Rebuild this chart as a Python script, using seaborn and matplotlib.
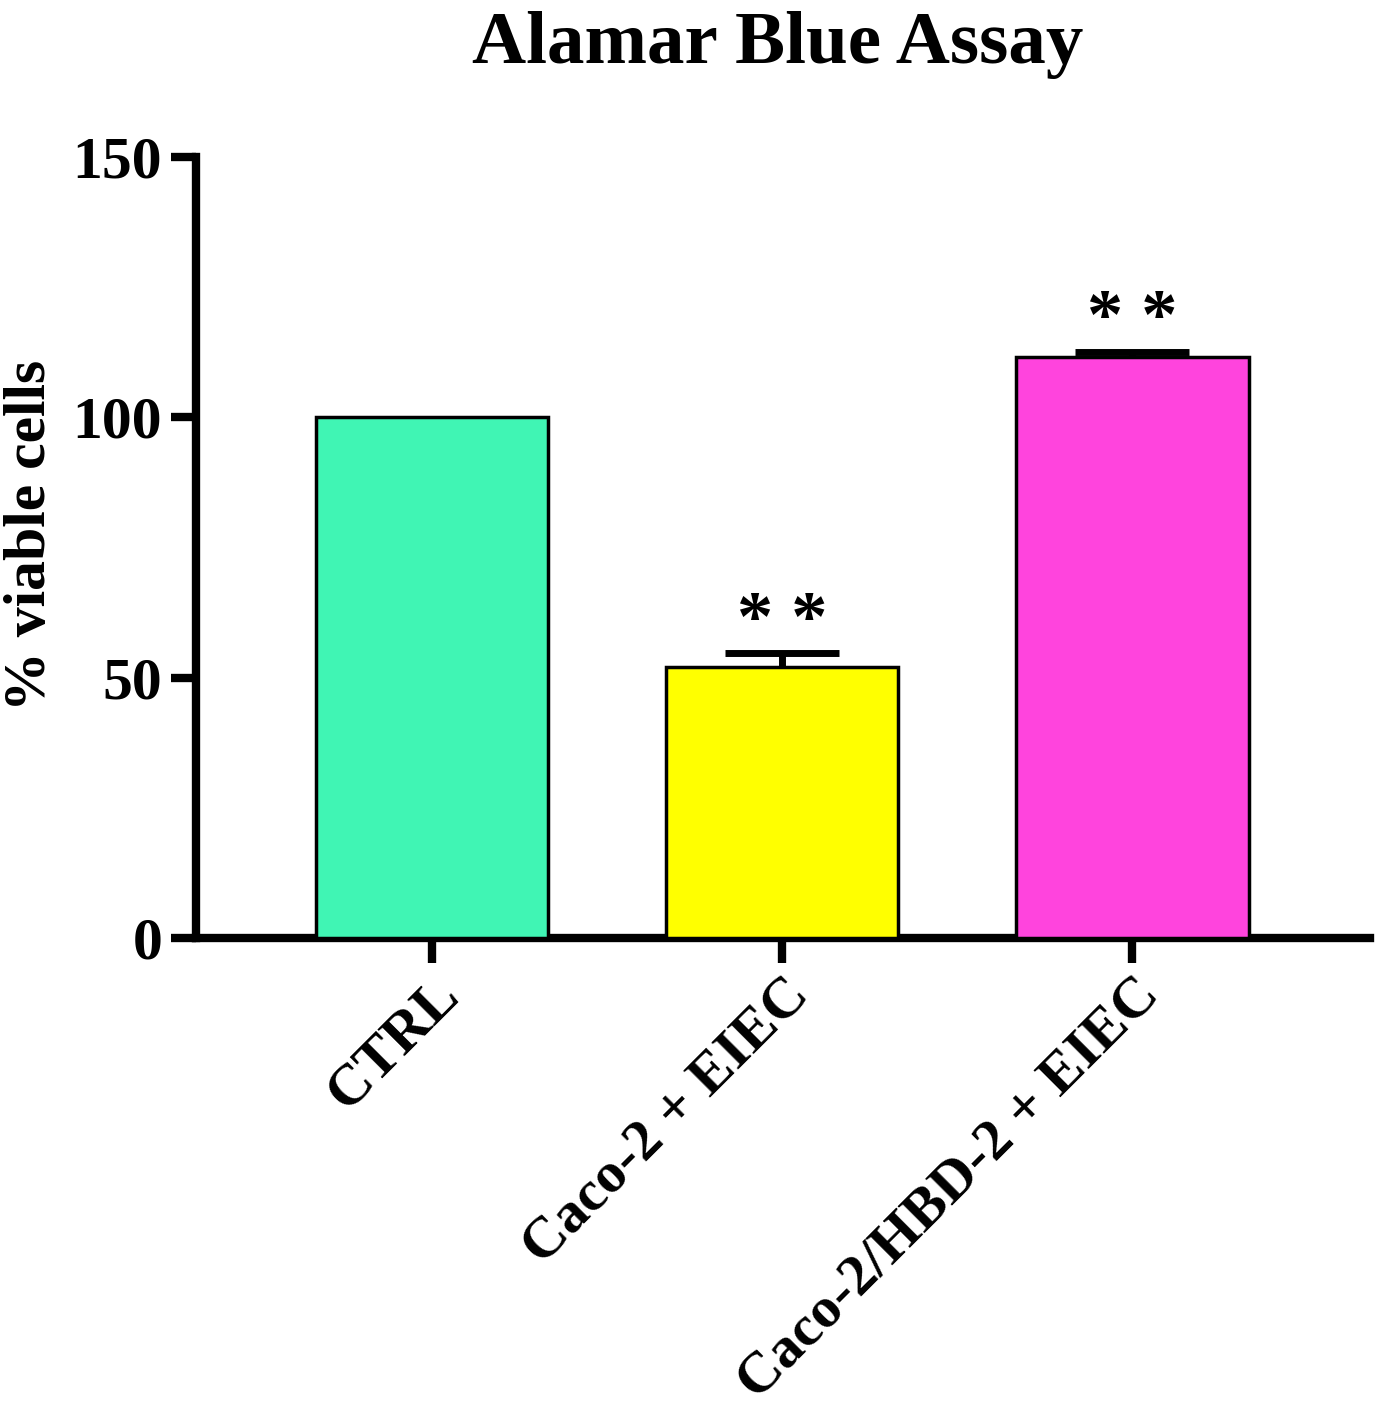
import matplotlib
matplotlib.use("Agg")
import matplotlib.pyplot as plt
import seaborn as sns
import pandas as pd
import numpy as np

categories = ["CTRL", "Caco-2 + EIEC", "Caco-2/HBD-2 + EIEC"]
viable = [100.0, 52.0, 111.6]
sem = [0.0, 2.7, 1.0]
stars = ["", "* *", "* *"]
colors = ["#40F5B4", "#FFFF00", "#FF44DD"]

sns.set_style("ticks")
plt.rcParams['font.family'] = ['Liberation Serif', 'DejaVu Serif']
plt.rcParams['font.weight'] = 'bold'
for k in ["text.color", "axes.labelcolor", "xtick.color", "ytick.color", "axes.edgecolor"]:
    plt.rcParams[k] = "black"

fig = plt.figure(figsize=(13.78, 14.2), dpi=100)
ax = fig.add_axes([0.142, 0.3394, 0.852, 0.5500])

df = pd.DataFrame({"group": categories, "value": viable})
sns.barplot(data=df, x="group", y="value", hue="group", palette=colors,
            saturation=1, width=0.664, edgecolor="black", linewidth=2.5,
            legend=False, ax=ax, zorder=3)

for i, (v, e, s) in enumerate(zip(viable, sem, stars)):
    if e > 0:
        ax.errorbar(i, v, yerr=e, fmt="none", ecolor="black",
                    elinewidth=5, capsize=41, capthick=5, zorder=2)
    if s:
        ax.text(i, v + e - 0.3, s, ha="center", va="bottom",
                fontsize=52, fontweight="bold", family="Liberation Serif")

ax.set_ylim(0, 150)
ax.set_xlim(-0.675, 2.678)
ax.set_yticks([0, 50, 100, 150])
ax.set_yticklabels(["0", "50", "100", "150"])
ax.tick_params(axis="y", length=18, width=6, labelsize=43, pad=6)
ax.tick_params(axis="x", length=18, width=6, labelsize=42, pad=4)
for lab in ax.get_yticklabels() + ax.get_xticklabels():
    lab.set_fontweight("bold")
plt.setp(ax.get_xticklabels(), rotation=45, ha="right", rotation_mode="anchor")

sns.despine(ax=ax)
for sp in ["left", "bottom"]:
    ax.spines[sp].set_linewidth(6)
ax.set_xlabel("")
ax.set_ylabel("% viable cells", fontsize=43, fontweight="bold")
ax.yaxis.set_label_coords(-0.117, 0.515)
fig.text(0.5646, 0.968, "Alamar Blue Assay", ha="center", va="center",
         fontsize=54, fontweight="bold")

fig.savefig("out.png", dpi=100)
